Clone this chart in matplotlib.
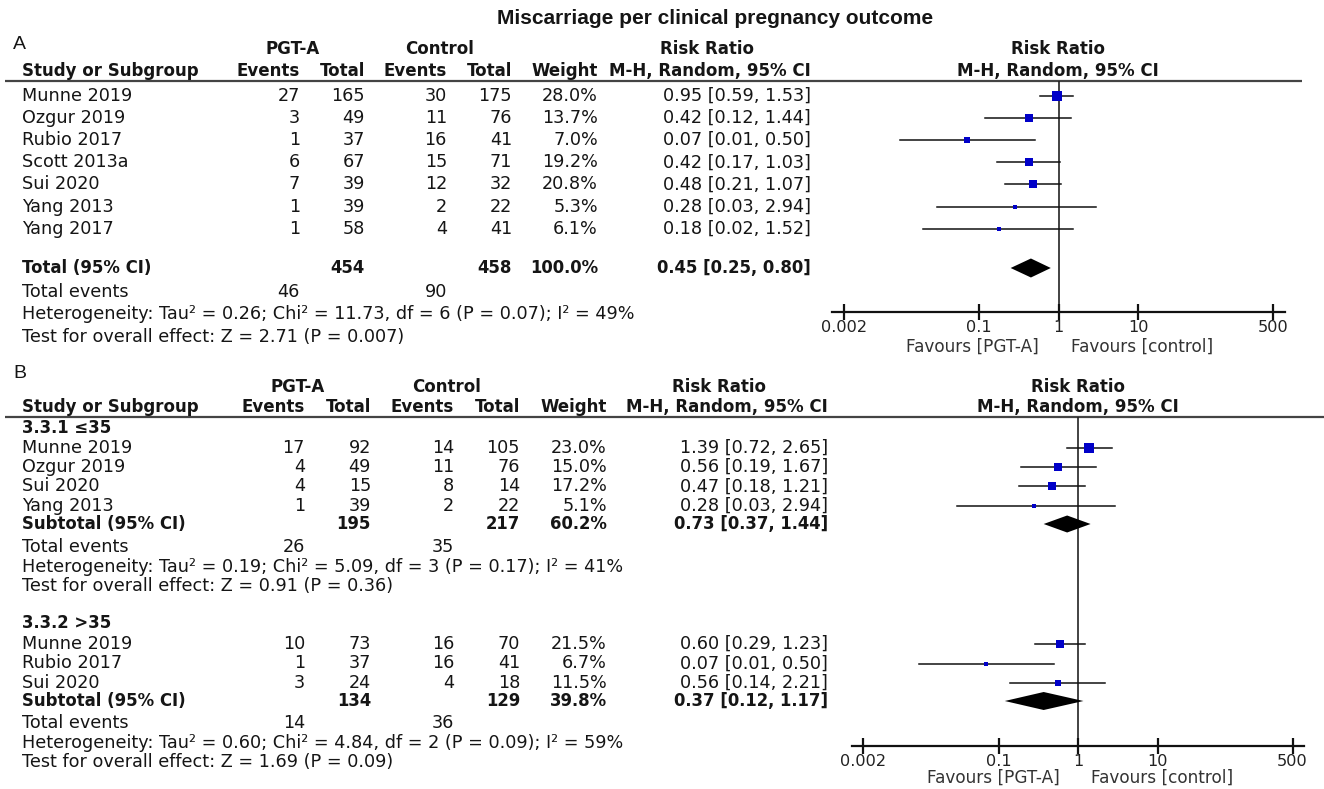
import matplotlib
matplotlib.use('Agg')
import matplotlib.pyplot as plt
from matplotlib import font_manager
import numpy as np

# ---------------- data ----------------
title = "Miscarriage per clinical pregnancy outcome"

studies_A = ['Munne 2019', 'Ozgur 2019', 'Rubio 2017', 'Scott 2013a', 'Sui 2020', 'Yang 2013', 'Yang 2017']
pgt_events_A = [27, 3, 1, 6, 7, 1, 1]
pgt_total_A = [165, 49, 37, 67, 39, 39, 58]
ctl_events_A = [30, 11, 16, 15, 12, 2, 4]
ctl_total_A = [175, 76, 41, 71, 32, 22, 41]
weight_A = [28.0, 13.7, 7.0, 19.2, 20.8, 5.3, 6.1]
rr_A = [0.95, 0.42, 0.07, 0.42, 0.48, 0.28, 0.18]
lo_A = [0.59, 0.12, 0.01, 0.17, 0.21, 0.03, 0.02]
hi_A = [1.53, 1.44, 0.50, 1.03, 1.07, 2.94, 1.52]
total_A = dict(label='Total (95% CI)', pgt_total=454, ctl_total=458, weight=100.0,
               rr=0.45, lo=0.25, hi=0.80, pgt_events=46, ctl_events=90,
               het='Heterogeneity: Tau² = 0.26; Chi² = 11.73, df = 6 (P = 0.07); I² = 49%',
               test='Test for overall effect: Z = 2.71 (P = 0.007)')

sub1_label = '3.3.1 ≤35'
studies_B1 = ['Munne 2019', 'Ozgur 2019', 'Sui 2020', 'Yang 2013']
pgt_events_B1 = [17, 4, 4, 1]
pgt_total_B1 = [92, 49, 15, 39]
ctl_events_B1 = [14, 11, 8, 2]
ctl_total_B1 = [105, 76, 14, 22]
weight_B1 = [23.0, 15.0, 17.2, 5.1]
rr_B1 = [1.39, 0.56, 0.47, 0.28]
lo_B1 = [0.72, 0.19, 0.18, 0.03]
hi_B1 = [2.65, 1.67, 1.21, 2.94]
total_B1 = dict(label='Subtotal (95% CI)', pgt_total=195, ctl_total=217, weight=60.2,
                rr=0.73, lo=0.37, hi=1.44, pgt_events=26, ctl_events=35,
                het='Heterogeneity: Tau² = 0.19; Chi² = 5.09, df = 3 (P = 0.17); I² = 41%',
                test='Test for overall effect: Z = 0.91 (P = 0.36)')

sub2_label = '3.3.2 >35'
studies_B2 = ['Munne 2019', 'Rubio 2017', 'Sui 2020']
pgt_events_B2 = [10, 1, 3]
pgt_total_B2 = [73, 37, 24]
ctl_events_B2 = [16, 16, 4]
ctl_total_B2 = [70, 41, 18]
weight_B2 = [21.5, 6.7, 11.5]
rr_B2 = [0.60, 0.07, 0.56]
lo_B2 = [0.29, 0.01, 0.14]
hi_B2 = [1.23, 0.50, 2.21]
total_B2 = dict(label='Subtotal (95% CI)', pgt_total=134, ctl_total=129, weight=39.8,
                rr=0.37, lo=0.12, hi=1.17, pgt_events=14, ctl_events=36,
                het='Heterogeneity: Tau² = 0.60; Chi² = 4.84, df = 2 (P = 0.09); I² = 59%',
                test='Test for overall effect: Z = 1.69 (P = 0.09)')

tick_values = [0.002, 0.1, 1, 10, 500]
tick_labels = ['0.002', '0.1', '1', '10', '500']
favours_left = 'Favours [PGT-A]'
favours_right = 'Favours [control]'

# ---------------- setup ----------------
W, H = 1324, 789
fig = plt.figure(figsize=(W / 100, H / 100), dpi=100)
fig.patch.set_facecolor('white')
bg = fig.add_axes([0, 0, 1, 1])
bg.set_xlim(0, W)
bg.set_ylim(H, 0)
bg.axis('off')

names = {f.name for f in font_manager.fontManager.ttflist}
NARROW = 'Liberation Sans Narrow' if 'Liberation Sans Narrow' in names else 'Liberation Sans'
TFONT, TSIZE, HSIZE, BSIZE = 'DejaVu Sans', 12.7, 12.0, 11.9
PFONT = 'DejaVu Sans'
TXT = '#151515'
BLUE = '#0000c8'
DECADE = 79.5


def t(x, y, s, ha='left', bold=False, size=None, family=None, color=TXT):
    if size is None:
        size = BSIZE if bold else TSIZE
    bg.text(x, y, s, ha=ha, va='center', fontsize=size,
            fontweight='bold' if bold else 'normal',
            family=[family or TFONT, 'DejaVu Sans'], color=color)


def row(cols, y, name, pe, pt, ce, ct, w, rr, lo, hi, bold=False):
    t(22, y, name, bold=bold)
    vals = [pe, pt, ce, ct, None if w is None else f'{w:.1f}%',
            None if rr is None else f'{rr:.2f} [{lo:.2f}, {hi:.2f}]']
    for x, v in zip(cols, vals):
        if v is not None and v != '':
            t(x, y, str(v), ha='right', bold=bold)


def headers(cols, centers, y1, y2, line_y, line_x1, plot_cx):
    t(centers[0], y1, 'PGT-A', ha='center', bold=True, size=HSIZE)
    t(centers[1], y1, 'Control', ha='center', bold=True, size=HSIZE)
    t(centers[2], y1, 'Risk Ratio', ha='center', bold=True, size=HSIZE)
    t(22, y2, 'Study or Subgroup', bold=True, size=HSIZE)
    for x, s in zip(cols, ['Events', 'Total', 'Events', 'Total', 'Weight', 'M-H, Random, 95% CI']):
        t(x, y2, s, ha='right', bold=True, size=HSIZE)
    t(plot_cx, y1, 'Risk Ratio', ha='center', bold=True, size=12.0, family=PFONT)
    t(plot_cx, y2, 'M-H, Random, 95% CI', ha='center', bold=True, size=12.0, family=PFONT)
    bg.plot([5, line_x1], [line_y, line_y], color='#444', lw=1.6, solid_capstyle='butt')


def forest_axes(x0, x1, y_top, y_axis):
    ax = fig.add_axes([x0 / W, 1 - y_axis / H, (x1 - x0) / W, (y_axis - y_top) / H])
    ax.set_xscale('log')
    half = (x1 - x0) / 2 / DECADE
    ax.set_xlim(10 ** -half, 10 ** half)
    ax.set_ylim(y_axis, y_top)
    ax.patch.set_alpha(0)
    for s in ['top', 'left', 'right']:
        ax.spines[s].set_visible(False)
    ax.spines['bottom'].set_linewidth(1.6)
    ax.spines['bottom'].set_color('#111')
    ax.set_yticks([])
    ax.set_xticks(tick_values)
    ax.set_xticklabels(tick_labels)
    ax.xaxis.set_minor_locator(matplotlib.ticker.NullLocator())
    ax.tick_params(axis='x', direction='inout', length=11, width=1.6, pad=0,
                   labelsize=11.6, labelcolor='#222', color='#111')
    for lab in ax.get_xticklabels():
        lab.set_family(PFONT)
    ax.axvline(1, color='#222', lw=1.2, zorder=1)
    return ax


def draw_studies(ax, ys, rr, lo, hi, w):
    for y, r, l, h, wt in zip(ys, rr, lo, hi, w):
        ax.plot([l, h], [y, y], color='#111', lw=1.1, zorder=2)
        side = 1.9 * np.sqrt(wt) * 0.72
        ax.plot([r], [y], marker='s', ms=side, color=BLUE, mec=BLUE, mew=0, zorder=3)


def diamond(ax, y, tot, half_h):
    ax.fill([tot['lo'], tot['rr'], tot['hi'], tot['rr']],
            [y, y - half_h, y, y + half_h], color='black', zorder=3, lw=0)


# ---------------- title & panel letters ----------------
bg.text(715, 18, title, ha='center', va='center', fontsize=15, fontweight='bold',
        family=[NARROW, 'DejaVu Sans'], color=TXT)
t(13, 44, 'A', size=14, family=NARROW)
t(13, 373, 'B', size=14, family=NARROW)

# ---------------- panel A ----------------
colsA = [300, 365, 447, 512, 598, 811]
headers(colsA, [293, 440, 707], 49, 71, 81, 1302, 1058)
ysA = [96 + 22.1 * i for i in range(len(studies_A))]
for i, y in enumerate(ysA):
    row(colsA, y, studies_A[i], pgt_events_A[i], pgt_total_A[i], ctl_events_A[i],
        ctl_total_A[i], weight_A[i], rr_A[i], lo_A[i], hi_A[i])
yTotA = 268
row(colsA, yTotA, total_A['label'], '', total_A['pgt_total'], '', total_A['ctl_total'],
    total_A['weight'], total_A['rr'], total_A['lo'], total_A['hi'], bold=True)
t(22, 292, 'Total events')
t(colsA[0], 292, str(total_A['pgt_events']), ha='right')
t(colsA[2], 292, str(total_A['ctl_events']), ha='right')
t(22, 314, total_A['het'])
t(22, 337, total_A['test'])

axA = forest_axes(832, 1285, 81, 312)
draw_studies(axA, ysA, rr_A, lo_A, hi_A, weight_A)
diamond(axA, yTotA, total_A, 9.5)
t(972, 347, favours_left, ha='center', size=12.2, family=PFONT, color='#333')
t(1142, 347, favours_right, ha='center', size=12.2, family=PFONT, color='#333')

# ---------------- panel B ----------------
colsB = [305, 371, 454, 520, 607, 828]
headers(colsB, [298, 447, 719], 387, 407, 417, W, 1078)

t(22, 428, sub1_label, bold=True)
ysB1 = [448 + 19.2 * i for i in range(len(studies_B1))]
for i, y in enumerate(ysB1):
    row(colsB, y, studies_B1[i], pgt_events_B1[i], pgt_total_B1[i], ctl_events_B1[i],
        ctl_total_B1[i], weight_B1[i], rr_B1[i], lo_B1[i], hi_B1[i])
ySub1 = 524
row(colsB, ySub1, total_B1['label'], '', total_B1['pgt_total'], '', total_B1['ctl_total'],
    total_B1['weight'], total_B1['rr'], total_B1['lo'], total_B1['hi'], bold=True)
t(22, 547, 'Total events')
t(colsB[0], 547, str(total_B1['pgt_events']), ha='right')
t(colsB[2], 547, str(total_B1['ctl_events']), ha='right')
t(22, 567, total_B1['het'])
t(22, 586, total_B1['test'])

t(22, 623, sub2_label, bold=True)
ysB2 = [644 + 19.5 * i for i in range(len(studies_B2))]
for i, y in enumerate(ysB2):
    row(colsB, y, studies_B2[i], pgt_events_B2[i], pgt_total_B2[i], ctl_events_B2[i],
        ctl_total_B2[i], weight_B2[i], rr_B2[i], lo_B2[i], hi_B2[i])
ySub2 = 701
row(colsB, ySub2, total_B2['label'], '', total_B2['pgt_total'], '', total_B2['ctl_total'],
    total_B2['weight'], total_B2['rr'], total_B2['lo'], total_B2['hi'], bold=True)
t(22, 723, 'Total events')
t(colsB[0], 723, str(total_B2['pgt_events']), ha='right')
t(colsB[2], 723, str(total_B2['ctl_events']), ha='right')
t(22, 743, total_B2['het'])
t(22, 762, total_B2['test'])

axB = forest_axes(852, 1304, 417, 746)
draw_studies(axB, ysB1, rr_B1, lo_B1, hi_B1, weight_B1)
draw_studies(axB, ysB2, rr_B2, lo_B2, hi_B2, weight_B2)
diamond(axB, ySub1, total_B1, 8.5)
diamond(axB, ySub2, total_B2, 9)
t(993, 778, favours_left, ha='center', size=12.2, family=PFONT, color='#333')
t(1162, 778, favours_right, ha='center', size=12.2, family=PFONT, color='#333')

fig.savefig('out.png', dpi=100)
